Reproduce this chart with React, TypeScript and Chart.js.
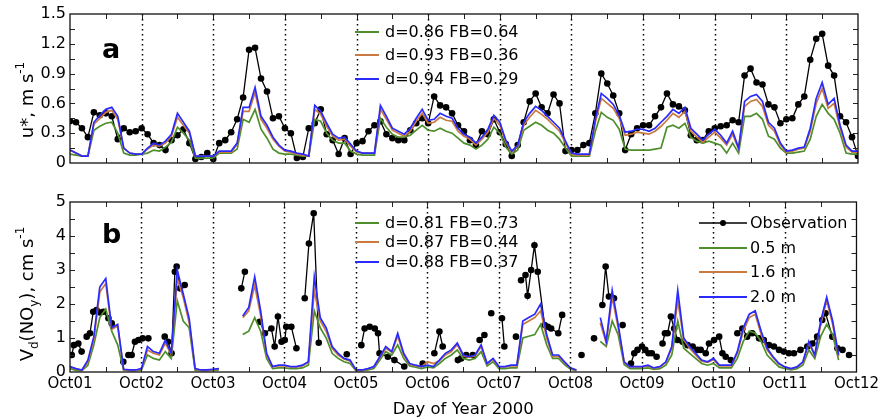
import React, { useEffect, useRef } from 'react';
import { Chart, registerables } from 'chart.js';

Chart.register(...registerables);

const FONT = '"DejaVu Sans", sans-serif';
const GREEN = '#4e8f2c';
const ORANGE = '#c97a3e';
const BLUE = '#2a2aff';

// time axis: hours since Oct01 00:00, sampled every 2 h
const HOURS = Array.from({ length: 133 }, (_, i) => i * 2);
const DAY_LABELS = ['Oct01', 'Oct02', 'Oct03', 'Oct04', 'Oct05', 'Oct06', 'Oct07', 'Oct08', 'Oct09', 'Oct10', 'Oct11', 'Oct12'];
const U_TICKS = ['0', '0.3', '0.6', '0.9', '1.2', '1.5'];
const V_TICKS = ['0', '1', '2', '3', '4', '5'];

// ---- panel a : u* (m s-1) ----
const uObs = [
  0.42, 0.41, 0.35, 0.26, 0.51, 0.48, 0.50, 0.47, 0.24, 0.35, 0.31, 0.32,
  0.35, 0.29, 0.20, 0.18, 0.13, 0.23, 0.28, 0.34, 0.20, 0.04, 0.06, 0.10,
  0.04, 0.20, 0.23, 0.31, 0.44, 0.66, 1.14, 1.16, 0.85, 0.72, 0.45, 0.47,
  0.35, 0.30, 0.05, 0.06, 0.35, 0.40, 0.54, 0.29, 0.23, 0.09, 0.25, 0.09,
  0.20, 0.22, 0.32, 0.38, 0.42, 0.29, 0.25, 0.23, 0.23, 0.33, 0.40, 0.45,
  0.40, 0.67, 0.58, 0.56, 0.50, 0.38, 0.32, 0.23, 0.18, 0.32, 0.29, 0.44,
  0.31, 0.19, 0.07, 0.18, 0.41, 0.62, 0.70, 0.56, 0.50, 0.69, 0.60, 0.12,
  0.13, 0.13, 0.18, 0.20, 0.50, 0.90, 0.80, 0.68, 0.50, 0.13, 0.29, 0.35,
  0.38, 0.38, 0.47, 0.56, 0.70, 0.59, 0.57, 0.53, 0.28, 0.23, 0.23, 0.32,
  0.35, 0.37, 0.38, 0.43, 0.41, 0.88, 0.95, 0.81, 0.79, 0.59, 0.56, 0.40,
  0.44, 0.45, 0.59, 0.67, 1.04, 1.25, 1.30, 0.98, 0.88, 0.47, 0.41, 0.26,
  0.07,
];
const uBlue = [
  0.13, 0.10, 0.07, 0.07, 0.41, 0.48, 0.54, 0.56, 0.47, 0.15, 0.10, 0.09,
  0.09, 0.15, 0.20, 0.18, 0.22, 0.29, 0.50, 0.41, 0.32, 0.07, 0.07, 0.07,
  0.07, 0.12, 0.12, 0.12, 0.20, 0.56, 0.56, 0.76, 0.47, 0.38, 0.26, 0.18,
  0.13, 0.12, 0.10, 0.09, 0.07, 0.58, 0.52, 0.40, 0.29, 0.25, 0.26, 0.19,
  0.12, 0.10, 0.10, 0.10, 0.58, 0.47, 0.35, 0.32, 0.29, 0.35, 0.45, 0.54,
  0.43, 0.44, 0.50, 0.47, 0.45, 0.35, 0.29, 0.26, 0.20, 0.26, 0.34, 0.48,
  0.41, 0.23, 0.12, 0.18, 0.41, 0.50, 0.57, 0.53, 0.47, 0.41, 0.35, 0.22,
  0.10, 0.09, 0.09, 0.09, 0.44, 0.70, 0.65, 0.59, 0.48, 0.31, 0.32, 0.34,
  0.34, 0.32, 0.35, 0.41, 0.47, 0.54, 0.50, 0.56, 0.35, 0.29, 0.23, 0.29,
  0.34, 0.28, 0.20, 0.32, 0.15, 0.62, 0.67, 0.69, 0.62, 0.41, 0.35, 0.20,
  0.12, 0.13, 0.15, 0.16, 0.35, 0.65, 0.81, 0.59, 0.65, 0.38, 0.18, 0.12,
  0.12,
];
const uOrange = [
  0.13, 0.10, 0.07, 0.07, 0.39, 0.45, 0.51, 0.53, 0.44, 0.15, 0.10, 0.09,
  0.09, 0.14, 0.18, 0.17, 0.20, 0.27, 0.46, 0.38, 0.30, 0.07, 0.07, 0.07,
  0.07, 0.11, 0.11, 0.11, 0.19, 0.52, 0.52, 0.71, 0.44, 0.35, 0.24, 0.17,
  0.12, 0.11, 0.09, 0.08, 0.07, 0.54, 0.49, 0.37, 0.27, 0.23, 0.24, 0.17,
  0.11, 0.10, 0.10, 0.10, 0.54, 0.44, 0.33, 0.30, 0.27, 0.32, 0.42, 0.50,
  0.40, 0.41, 0.46, 0.43, 0.42, 0.32, 0.27, 0.24, 0.18, 0.24, 0.31, 0.45,
  0.38, 0.21, 0.11, 0.17, 0.38, 0.46, 0.53, 0.49, 0.44, 0.38, 0.32, 0.20,
  0.09, 0.08, 0.08, 0.08, 0.41, 0.65, 0.60, 0.55, 0.45, 0.28, 0.29, 0.31,
  0.30, 0.29, 0.32, 0.37, 0.43, 0.50, 0.46, 0.52, 0.32, 0.26, 0.21, 0.26,
  0.31, 0.25, 0.18, 0.29, 0.14, 0.57, 0.62, 0.64, 0.57, 0.38, 0.32, 0.18,
  0.11, 0.12, 0.14, 0.15, 0.32, 0.60, 0.75, 0.55, 0.60, 0.35, 0.16, 0.11,
  0.11,
];
const uGreen = [
  0.09, 0.08, 0.07, 0.07, 0.33, 0.37, 0.40, 0.41, 0.30, 0.10, 0.08, 0.08,
  0.09, 0.10, 0.13, 0.12, 0.16, 0.21, 0.36, 0.30, 0.23, 0.05, 0.05, 0.05,
  0.05, 0.10, 0.10, 0.10, 0.14, 0.44, 0.41, 0.54, 0.34, 0.25, 0.14, 0.10,
  0.09, 0.09, 0.08, 0.07, 0.07, 0.44, 0.42, 0.30, 0.23, 0.20, 0.20, 0.12,
  0.09, 0.08, 0.08, 0.08, 0.45, 0.36, 0.29, 0.26, 0.26, 0.28, 0.33, 0.38,
  0.33, 0.32, 0.35, 0.32, 0.30, 0.25, 0.20, 0.18, 0.14, 0.18, 0.24, 0.36,
  0.30, 0.16, 0.09, 0.13, 0.33, 0.37, 0.41, 0.38, 0.33, 0.30, 0.24, 0.15,
  0.07, 0.07, 0.07, 0.07, 0.32, 0.51, 0.46, 0.43, 0.34, 0.14, 0.13, 0.13,
  0.13, 0.13, 0.14, 0.15, 0.36, 0.38, 0.35, 0.40, 0.26, 0.22, 0.20, 0.22,
  0.20, 0.18, 0.10, 0.20, 0.10, 0.47, 0.47, 0.50, 0.44, 0.27, 0.24, 0.15,
  0.10, 0.10, 0.11, 0.12, 0.24, 0.47, 0.59, 0.50, 0.44, 0.30, 0.10, 0.09,
  0.09,
];

// ---- panel b : Vd(NOy) (cm s-1) ----
const vBlue = [
  0.16, 0.10, 0.06, 0.35, 1.04, 2.50, 2.75, 1.30, 1.40, 0.08, 0.06, 0.06,
  0.10, 0.75, 0.60, 0.55, 0.94, 0.55, 3.00, 2.30, 1.58, 0.10, 0.06, 0.06,
  0.08, 0.10, null, null, null, 1.65, 1.90, 2.80, 1.80, 0.55, 0.16, 0.20,
  0.20, 0.16, 0.16, 0.20, 0.30, 2.80, 1.60, 1.30, 0.75, 0.55, 0.40, 0.35,
  0.06, 0.06, 0.10, 0.16, 0.45, 0.75, 0.60, 1.14, 0.55, 0.25, 0.20, 0.16,
  0.20, 0.16, 0.35, 0.55, 0.65, 0.85, 0.50, 0.45, 0.50, 0.80, 0.25, 0.40,
  0.16, 0.16, 0.20, 0.20, 1.50, 1.60, 1.70, 2.00, 1.10, 0.50, 0.50, 0.30,
  0.12, 0.06, null, null, null, 1.60, 0.90, 2.40, 1.40, 0.30, 0.16, 0.16,
  0.16, 0.20, 0.12, 0.16, 0.30, 0.75, 2.40, 1.00, 0.75, 0.55, 0.35, 0.30,
  0.40, 0.20, 0.20, 0.20, 0.60, 1.30, 1.70, 1.80, 1.20, 0.70, 0.45, 0.25,
  0.15, 0.10, 0.15, 0.30, 0.90, 0.50, 1.50, 2.20, 1.50, 0.50, null, null,
  null,
];
const vOrange = [
  0.15, 0.09, 0.05, 0.30, 0.95, 2.35, 2.60, 1.25, 1.35, 0.07, 0.05, 0.05,
  0.09, 0.65, 0.55, 0.50, 0.85, 0.50, 2.75, 2.20, 1.45, 0.09, 0.05, 0.05,
  0.07, 0.09, null, null, null, 1.60, 1.80, 2.55, 1.65, 0.50, 0.15, 0.18,
  0.18, 0.15, 0.15, 0.18, 0.28, 2.40, 1.50, 1.20, 0.70, 0.50, 0.38, 0.32,
  0.05, 0.05, 0.09, 0.15, 0.42, 0.70, 0.58, 1.05, 0.50, 0.23, 0.18, 0.15,
  0.30, 0.25, 0.33, 0.50, 0.60, 0.80, 0.48, 0.43, 0.48, 0.75, 0.23, 0.37,
  0.15, 0.15, 0.18, 0.18, 1.40, 1.50, 1.60, 1.80, 1.00, 0.46, 0.46, 0.28,
  0.11, 0.05, null, null, null, 1.45, 0.85, 2.20, 1.30, 0.28, 0.15, 0.15,
  0.15, 0.18, 0.11, 0.15, 0.28, 0.70, 2.10, 0.95, 0.70, 0.50, 0.32, 0.28,
  0.36, 0.18, 0.18, 0.18, 0.55, 1.20, 1.60, 1.70, 1.10, 0.65, 0.42, 0.23,
  0.14, 0.09, 0.14, 0.28, 0.85, 0.48, 1.40, 2.10, 1.40, 0.46, null, null,
  null,
];
const vGreen = [
  0.10, 0.05, 0.04, 0.20, 0.80, 1.60, 1.85, 1.20, 0.80, 0.05, 0.04, 0.04,
  0.06, 0.50, 0.40, 0.35, 0.60, 0.40, 2.10, 1.50, 1.30, 0.05, 0.04, 0.04,
  0.05, 0.06, null, null, null, 1.10, 1.20, 1.60, 1.20, 0.40, 0.10, 0.12,
  0.12, 0.10, 0.10, 0.12, 0.20, 1.80, 1.30, 1.00, 0.55, 0.40, 0.30, 0.25,
  0.04, 0.04, 0.06, 0.10, 0.35, 0.60, 0.50, 0.80, 0.40, 0.18, 0.14, 0.10,
  0.15, 0.12, 0.25, 0.40, 0.50, 0.65, 0.40, 0.35, 0.40, 0.60, 0.18, 0.30,
  0.10, 0.10, 0.12, 0.12, 1.00, 1.05, 1.10, 1.40, 0.80, 0.40, 0.40, 0.22,
  0.08, 0.04, null, null, null, 0.90, 0.75, 1.50, 1.10, 0.22, 0.10, 0.10,
  0.10, 0.12, 0.08, 0.10, 0.20, 0.50, 1.50, 0.70, 0.55, 0.40, 0.25, 0.20,
  0.25, 0.12, 0.12, 0.12, 0.40, 0.90, 1.20, 1.15, 0.90, 0.50, 0.32, 0.15,
  0.10, 0.06, 0.10, 0.20, 0.65, 0.40, 1.05, 1.40, 1.10, 0.35, null, null,
  null,
];
// observations (irregular, with gaps marked by null)
const vObsHours = [
  0.6, 1.3, 2.8, 3.9, 4.7, 5.6, 6.7, 7.8, 8.9, 10.1, 11.2, 12.9, 14.0, 16.0, 17.9, 18.7,
  19.6, 20.7, 21.8, 23.0, 24.4, 26.3, 29.0, 31.8, 32.9, 34.1, 35.2, 35.8, 36.9, 38.5, 48.0,
  57.5, 58.7, 61.0, 63.7, 65.4, 67.6, 68.7, 69.8, 71.0, 72.1, 72.6, 74.3, 76.0, 77.4,
  78.8, 80.2, 81.8, 83.5, 88.0, 92.9, 95.0, 97.8, 98.9, 100.6, 102.3, 103.4, 103.9,
  106.7, 108.9, 112.2, 115.0, 118.4, 120.0, 122.3, 124.0, 125.1, 128.0, 130.2, 131.3,
  133.0, 134.0, 135.2, 136.3, 137.5, 139.1, 140.2, 141.4, 143.0, 145.0, 145.8, 148.0,
  149.7, 150.5, 151.4, 152.9, 153.6, 154.8, 155.9, 157.0, 159.3, 160.4, 161.5, 163.9,
  165.2, 168.0, 171.7, 174.0, 175.9, 177.0, 178.7, 179.8, 180.9, 182.6, 184.0, 185.5,
  187.0, 188.3, 189.4, 190.5, 192.0, 193.1, 194.2, 195.3, 196.9, 198.0, 198.9, 199.7,
  200.6, 201.7, 202.8, 203.9, 205.6, 207.3, 209.0, 210.6, 211.7, 213.4, 214.5, 216.2,
  217.9, 219.0, 220.1, 221.8, 223.0, 224.0, 225.7, 227.3, 229.0, 231.3, 232.9, 234.6,
  236.3, 238.0, 239.6, 241.3, 243.0, 245.2, 247.5, 249.2, 250.8, 252.5, 253.6, 255.9,
  257.6, 259.3, 260.5, 261.5,
];
const vObsVals = [
  0.5, 0.79, 0.84, 0.6, null, 1.04, 1.14, 1.77, 1.82, 1.75, 1.77, 1.58, 1.43, null, 0.3, null,
  0.5, 0.5, 0.89, 0.94, 0.99, 0.99, null, 1.04, 0.89, 0.55, 2.95, 3.1, 2.46, 2.56, null,
  2.46, 2.95, null, 1.48, 1.14, 1.28, 0.75, 1.63, 0.89, 0.94, 1.33, 1.33, 0.7, null,
  2.17, 3.78, 4.67, 0.86, null, 0.52, null, 0.79, 1.28, 1.33, 1.28, 1.14, 0.55,
  0.45, 0.35, 0.16, null, 0.25, null, 0.55, 1.19, 0.75, null, 0.35, 0.4,
  0.5, null, 0.5, null, 0.94, 1.09, null, 1.73, null, 1.58, 0.75, null,
  1.04, null, 2.7, 2.85, 2.24, 3.0, 3.73, 2.95, 1.38, 1.33, 1.28, 1.14,
  1.68, null, 0.5, null, 0.99, null, 1.97, 3.1, 2.22, 2.17, null, 1.38,
  null, 0.25, 0.55, 0.65, 0.75, 0.65, 0.55, 0.55, 0.45, null, 0.84, 1.14,
  1.14, 1.63, 1.28, 0.94, 0.89, 0.79, 0.75, 0.65, 0.65, 0.55, 0.84, 0.94,
  1.04, 0.55, 0.45, 0.35, null, 1.14, 1.28, 1.04, 1.14, 0.99, 0.94, 0.79,
  0.75, 0.65, 0.6, 0.55, 0.55, 0.65, 0.75, 0.84, 1.04, 1.53, 1.73, 1.04,
  0.7, 0.65, null, 0.5,
];

const LEGEND_A = ['d=0.86 FB=0.64', 'd=0.93 FB=0.36', 'd=0.94 FB=0.29'];
const LEGEND_B = ['d=0.81 FB=0.73', 'd=0.87 FB=0.44', 'd=0.88 FB=0.37'];
const LEGEND_SERIES = ['Observation', '0.5 m', '1.6 m', '2.0 m'];

type Part = { t: string; s: number };

function pairs(xs: number[], ys: (number | null)[]) {
  return xs.map((x, i) => ({ x, y: ys[i] }));
}

function lineDs(label: string, xs: number[], ys: (number | null)[], color: string) {
  return {
    label,
    data: pairs(xs, ys),
    borderColor: color,
    backgroundColor: color,
    borderWidth: 1.7,
    pointRadius: 0,
    tension: 0,
    spanGaps: false,
  };
}

function obsDs(xs: number[], ys: (number | null)[]) {
  return {
    label: 'Observation',
    data: pairs(xs, ys),
    borderColor: '#000',
    backgroundColor: '#000',
    borderWidth: 1.3,
    pointRadius: 3.3,
    pointBorderWidth: 0,
    pointBackgroundColor: '#000',
    tension: 0,
    spanGaps: false,
  };
}

function drawVerticalRich(ctx: CanvasRenderingContext2D, parts: Part[], bx: number, cy: number) {
  const big = `18px ${FONT}`;
  const small = `12px ${FONT}`;
  const widths = parts.map((p) => {
    ctx.font = p.s ? small : big;
    return ctx.measureText(p.t).width;
  });
  const total = widths.reduce((a, b) => a + b, 0);
  ctx.save();
  ctx.translate(bx, cy);
  ctx.rotate(-Math.PI / 2);
  ctx.fillStyle = '#000';
  ctx.textAlign = 'left';
  ctx.textBaseline = 'alphabetic';
  let x = -total / 2;
  parts.forEach((p, i) => {
    ctx.font = p.s ? small : big;
    const dy = p.s === 1 ? -9 : p.s === -1 ? 5 : 0;
    ctx.fillText(p.t, x, dy);
    x += widths[i];
  });
  ctx.restore();
}

type DecorOpts = {
  yMinor: number;
  yMax: number;
  panel: string;
  panelBaseline: number;
  title: Part[];
  titleCenterY: number;
  legend: string[];
  legendYs: number[];
  seriesLegend?: number[];
  xTitleBaseline?: number;
};

function decorPlugin(o: DecorOpts) {
  return {
    id: 'decor',
    beforeDatasetsDraw(chart: any) {
      const { ctx, chartArea: ca, scales } = chart;
      const xs = scales.x;
      ctx.save();
      ctx.strokeStyle = '#000';
      ctx.lineWidth = 1.5;
      ctx.setLineDash([1.5, 3.5]);
      for (let d = 1; d < DAY_LABELS.length - 1; d++) {
        const px = Math.round(xs.getPixelForValue(d * 24)) + 0.5;
        ctx.beginPath();
        ctx.moveTo(px, ca.top);
        ctx.lineTo(px, ca.bottom);
        ctx.stroke();
      }
      ctx.restore();
    },
    afterDatasetsDraw(chart: any) {
      const { ctx, chartArea: ca, scales } = chart;
      const xs = scales.x;
      const ys = scales.y;
      ctx.save();
      ctx.strokeStyle = '#222';
      ctx.lineWidth = 1;
      ctx.setLineDash([]);
      const L = 5;
      ctx.beginPath();
      for (let h = 12; h < 264; h += 12) {
        const px = Math.round(xs.getPixelForValue(h)) + 0.5;
        ctx.moveTo(px, ca.top);
        ctx.lineTo(px, ca.top + L);
        ctx.moveTo(px, ca.bottom);
        ctx.lineTo(px, ca.bottom - L);
      }
      const n = Math.round(o.yMax / o.yMinor);
      for (let k = 1; k < n; k++) {
        const py = Math.round(ys.getPixelForValue(k * o.yMinor)) + 0.5;
        ctx.moveTo(ca.left, py);
        ctx.lineTo(ca.left + L, py);
        ctx.moveTo(ca.right, py);
        ctx.lineTo(ca.right - L, py);
      }
      ctx.stroke();
      ctx.lineWidth = 1.3;
      ctx.strokeStyle = '#111';
      ctx.strokeRect(ca.left, ca.top, ca.right - ca.left, ca.bottom - ca.top);
      ctx.restore();
    },
    afterDraw(chart: any) {
      const { ctx, chartArea: ca } = chart;
      ctx.save();
      // panel letter
      ctx.fillStyle = '#000';
      ctx.font = `bold 27px ${FONT}`;
      ctx.textAlign = 'left';
      ctx.textBaseline = 'alphabetic';
      ctx.fillText(o.panel, 102, o.panelBaseline);
      // y title
      drawVerticalRich(ctx, o.title, 33, o.titleCenterY);
      // model legend (center)
      const colors = [GREEN, ORANGE, BLUE];
      ctx.font = `16px ${FONT}`;
      ctx.textBaseline = 'middle';
      o.legend.forEach((lab, i) => {
        const y = o.legendYs[i];
        ctx.strokeStyle = colors[i];
        ctx.lineWidth = 2;
        ctx.beginPath();
        ctx.moveTo(355, y);
        ctx.lineTo(379, y);
        ctx.stroke();
        ctx.fillStyle = '#000';
        ctx.fillText(lab, 385, y + 1);
      });
      // series legend (right, panel b)
      if (o.seriesLegend) {
        const sc = ['#000', GREEN, ORANGE, BLUE];
        LEGEND_SERIES.forEach((lab, i) => {
          const y = o.seriesLegend![i];
          ctx.strokeStyle = sc[i];
          ctx.lineWidth = i === 0 ? 1.3 : 2;
          ctx.beginPath();
          ctx.moveTo(699, y);
          ctx.lineTo(747, y);
          ctx.stroke();
          if (i === 0) {
            ctx.fillStyle = '#000';
            ctx.beginPath();
            ctx.arc(723, y, 3, 0, Math.PI * 2);
            ctx.fill();
          }
          ctx.fillStyle = '#000';
          ctx.fillText(lab, 750, y + 1);
        });
      }
      if (o.xTitleBaseline !== undefined) {
        ctx.font = `16.5px ${FONT}`;
        ctx.textAlign = 'center';
        ctx.textBaseline = 'alphabetic';
        ctx.fillStyle = '#000';
        ctx.fillText('Day of Year 2000', (ca.left + ca.right) / 2, o.xTitleBaseline);
      }
      ctx.restore();
    },
  };
}

function xScale(show: boolean) {
  return {
    type: 'linear',
    min: 0,
    max: 264,
    display: show,
    grid: { display: false, drawTicks: false },
    border: { display: false },
    ticks: {
      stepSize: 24,
      autoSkip: false,
      maxRotation: 0,
      minRotation: 0,
      padding: 3,
      color: '#000',
      font: { family: FONT, size: 15 },
      callback: (v: number) => DAY_LABELS[Math.round(v / 24)] ?? '',
    },
    afterFit: (s: any) => {
      s.height = 22;
    },
  };
}

function yScale(max: number, step: number, labels: string[]) {
  return {
    min: 0,
    max,
    grid: { display: false, drawTicks: false },
    border: { display: false },
    ticks: {
      stepSize: step,
      padding: 4,
      color: '#000',
      font: { family: FONT, size: 16 },
      callback: (v: number) => labels[Math.round(v / step)] ?? '',
    },
    afterFit: (s: any) => {
      s.width = 70;
    },
  };
}

export default function App() {
  const refA = useRef<HTMLCanvasElement>(null);
  const refB = useRef<HTMLCanvasElement>(null);

  useEffect(() => {
    const a = new Chart(refA.current as HTMLCanvasElement, {
      type: 'line',
      data: {
        datasets: [
          lineDs('2.0 m', HOURS, uBlue, BLUE),
          lineDs('1.6 m', HOURS, uOrange, ORANGE),
          lineDs('0.5 m', HOURS, uGreen, GREEN),
          obsDs(HOURS, uObs),
        ] as any,
      },
      options: {
        responsive: false,
        animation: false,
        devicePixelRatio: 1,
        layout: { padding: { left: 0, right: 24, top: 14, bottom: 15 } },
        scales: { x: xScale(false), y: yScale(1.5, 0.3, U_TICKS) } as any,
        plugins: { legend: { display: false }, tooltip: { enabled: false } },
      },
      plugins: [
        decorPlugin({
          yMinor: 0.15,
          yMax: 1.5,
          panel: 'a',
          panelBaseline: 58,
          title: [
            { t: 'u*, m s', s: 0 },
            { t: '-1', s: 1 },
          ],
          titleCenterY: 100,
          legend: LEGEND_A,
          legendYs: [32, 55, 79],
        }) as any,
      ],
    });

    const b = new Chart(refB.current as HTMLCanvasElement, {
      type: 'line',
      data: {
        datasets: [
          lineDs('2.0 m', HOURS, vBlue, BLUE),
          lineDs('1.6 m', HOURS, vOrange, ORANGE),
          lineDs('0.5 m', HOURS, vGreen, GREEN),
          obsDs(vObsHours, vObsVals),
        ] as any,
      },
      options: {
        responsive: false,
        animation: false,
        devicePixelRatio: 1,
        layout: { padding: { left: 0, right: 24, top: 22, bottom: 25 } },
        scales: { x: xScale(true), y: yScale(5, 1, V_TICKS) } as any,
        plugins: { legend: { display: false }, tooltip: { enabled: false } },
      },
      plugins: [
        decorPlugin({
          yMinor: 0.5,
          yMax: 5,
          panel: 'b',
          panelBaseline: 63,
          title: [
            { t: 'V', s: 0 },
            { t: 'd', s: -1 },
            { t: '(NO', s: 0 },
            { t: 'y', s: -1 },
            { t: '), cm s', s: 0 },
            { t: '-1', s: 1 },
          ],
          titleCenterY: 114,
          legend: LEGEND_B,
          legendYs: [43, 62, 82],
          seriesLegend: [43, 68, 92, 117],
          xTitleBaseline: 234,
        }) as any,
      ],
    });

    return () => {
      a.destroy();
      b.destroy();
    };
  }, []);

  return (
    <div style={{ position: 'fixed', left: 0, top: 0, width: 882, height: 419, background: '#fff' }}>
      <canvas
        ref={refA}
        width={882}
        height={200}
        style={{ position: 'absolute', left: 0, top: 0, width: 882, height: 200, display: 'block' }}
      />
      <canvas
        ref={refB}
        width={882}
        height={239}
        style={{ position: 'absolute', left: 0, top: 180, width: 882, height: 239, display: 'block' }}
      />
    </div>
  );
}
